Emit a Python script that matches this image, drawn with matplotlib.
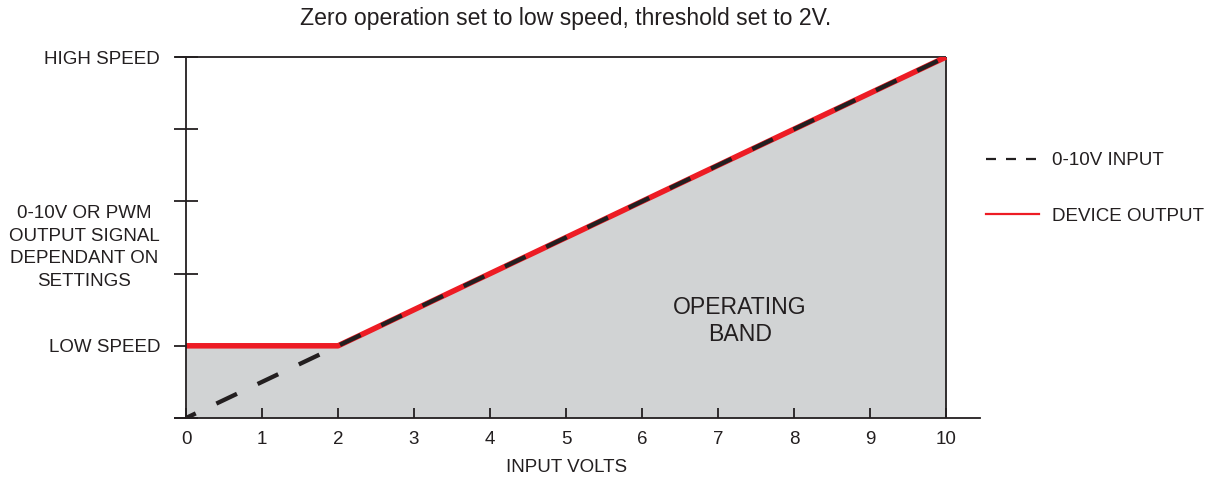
import matplotlib
matplotlib.use('Agg')
import matplotlib.pyplot as plt
from matplotlib.lines import Line2D

# chart data (speed levels on a 0-5 scale, 1 = low speed, 5 = high speed)
x_input = [0, 10]
input_signal = [0, 5]
x_output = [0, 2, 10]
device_output = [1, 1, 5]
x_ticks = list(range(0, 11))
y_ticks = [0, 1, 2, 3, 4, 5]
y_ticklabels = ['', 'LOW SPEED', '', '', '', 'HIGH SPEED']
v_max = 10
high_speed = 5

ink = '#231F20'
red = '#ED1C24'
band = '#D1D3D4'
fs = 13.5
fs_big = 16.6

plt.rcParams['font.family'] = ['Liberation Sans', 'DejaVu Sans']
plt.rcParams['text.color'] = ink

fig = plt.figure(figsize=(12.17, 4.78), dpi=100)
ax = fig.add_axes([175 / 1217, 60 / 478, 805 / 1217, 361 / 478])
ax.set_xlim(-0.145, 10.447)
ax.set_ylim(0, 5)

# operating band
ax.fill_between(x_output, device_output, 0, color=band, linewidth=0, zorder=1)
ax.vlines(v_max, 0, high_speed, color=ink, linewidth=1.3, zorder=2)
ax.hlines(high_speed, -0.145, v_max, color=ink, linewidth=1.3, zorder=2, clip_on=False)

ax.plot(x_output, device_output, color=red, linewidth=4.0, zorder=3, solid_capstyle='butt')
ax.plot(x_input, input_signal, color=ink, linewidth=3.1, linestyle=(2.8, (5.3, 5.3)),
        dash_capstyle='butt', zorder=4)

for s in ['top', 'right']:
    ax.spines[s].set_visible(False)
ax.spines['left'].set_position(('data', 0))
for s in ['left', 'bottom']:
    ax.spines[s].set_color(ink)
    ax.spines[s].set_linewidth(1.3)
    ax.spines[s].set_zorder(5)

ax.set_xticks(x_ticks)
ax.set_xticklabels([str(v) for v in x_ticks], fontsize=fs)
ax.tick_params(axis='x', direction='in', length=7.2, width=1.3, color=ink, pad=9.2, labelcolor=ink)
ax.set_yticks(y_ticks)
ax.set_yticklabels(y_ticklabels, fontsize=fs)
ax.tick_params(axis='y', direction='inout', length=17.3, width=1.3, color=ink, pad=10, labelcolor=ink)

ax.set_xlabel('INPUT VOLTS', fontsize=fs, color=ink)
ax.xaxis.set_label_coords(0.486, -0.1136)

ax.text(-1.342, 2.36, '0-10V OR PWM\nOUTPUT SIGNAL\nDEPENDANT ON\nSETTINGS',
        ha='center', va='center', fontsize=fs, linespacing=1.44, color=ink)
ax.text(7.29, 1.34, 'OPERATING\nBAND', ha='center', va='center', fontsize=fs_big,
        linespacing=1.2, color=ink)

fig.text(566 / 1217, 1 - 25 / 478, 'Zero operation set to low speed, threshold set to 2V.',
         ha='center', va='baseline', fontsize=fs_big, color=ink)

handles = [Line2D([], [], color=ink, linewidth=1.6, dashes=(4.5, 4.5)),
           Line2D([], [], color=red, linewidth=1.6)]
ax.legend(handles, ['0-10V INPUT', 'DEVICE OUTPUT'], loc='upper left',
          bbox_to_anchor=(0.994, 0.768), frameon=False, fontsize=fs,
          handlelength=2.8, handletextpad=0.69, labelspacing=2.06, borderaxespad=0.2)

fig.savefig('out.png', dpi=100)
